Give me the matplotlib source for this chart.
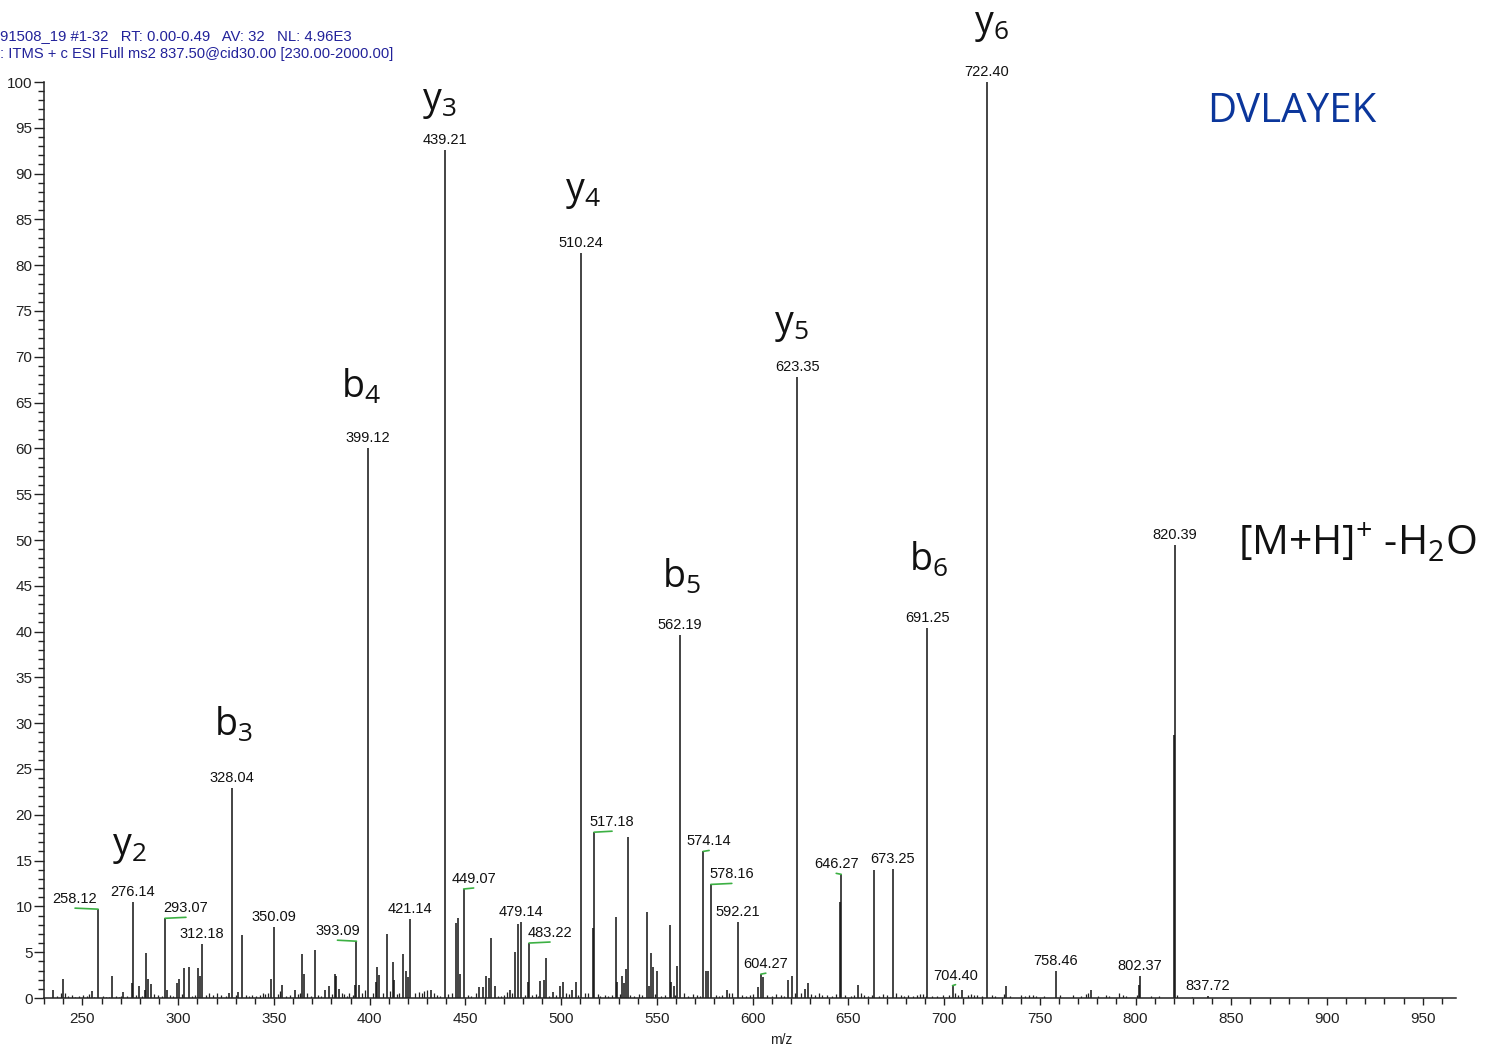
import numpy as np
import matplotlib.pyplot as plt
from matplotlib.ticker import MultipleLocator

# main fragment peaks (m/z, relative abundance %)
peak_mz = [234.4, 239.7, 254.9, 258.12, 265.4, 271.2, 275.6, 276.14, 279.6, 282.7,
           283.3, 284.0, 285.9, 293.07, 294.1, 299.5, 300.6, 303.2, 305.8, 310.2,
           311.4, 312.18, 326.3, 328.04, 331.4, 333.1, 348.2, 350.09, 354.3, 360.8,
           364.6, 365.9, 371.5, 376.6, 378.8, 381.8, 382.5, 383.9, 392.3, 393.09,
           394.2, 399.12, 403.2, 403.9, 405.1, 408.9, 412.1, 412.8, 417.5, 418.9,
           420.1, 421.14, 432.2, 439.21, 444.9, 446.3, 447.0, 449.07, 457.2, 459.1,
           461.0, 462.2, 463.6, 465.7, 473.2, 475.8, 477.7, 479.14, 482.8, 483.22,
           489.1, 491.0, 492.2, 495.5, 499.4, 500.8, 505.6, 507.7, 510.24, 516.5,
           517.18, 528.7, 529.4, 532.0, 532.6, 533.8, 534.7, 544.7, 546.1, 546.8,
           547.8, 550.3, 556.6, 557.3, 558.7, 560.6, 562.19, 574.14, 575.4, 576.6,
           578.16, 586.6, 592.21, 602.6, 604.27, 605.5, 618.5, 620.6, 623.35, 627.6,
           628.8, 645.5, 646.27, 655.1, 663.5, 673.25, 691.25, 704.40, 709.4, 722.40,
           732.5, 758.46, 776.6, 801.9, 802.37, 820.1, 820.39, 837.72]
peak_int = [0.9, 2.1, 0.8, 9.7, 2.4, 0.65, 1.6, 10.5, 1.35, 0.9,
            4.9, 2.1, 1.5, 8.7, 0.9, 1.6, 2.1, 3.3, 3.4, 3.3,
            2.4, 5.9, 0.6, 22.9, 0.65, 6.9, 2.1, 7.7, 1.4, 0.9,
            4.8, 2.65, 5.2, 0.9, 1.35, 2.6, 2.4, 1.0, 1.4, 6.2,
            1.4, 60.0, 1.8, 3.4, 2.5, 7.0, 3.9, 2.0, 4.8, 2.9,
            2.3, 8.6, 0.9, 92.6, 8.2, 8.7, 2.6, 11.9, 1.2, 1.2,
            2.4, 2.2, 6.6, 1.3, 0.9, 5.0, 8.1, 8.3, 1.7, 6.0,
            1.85, 2.0, 4.4, 0.7, 1.3, 1.7, 0.9, 1.8, 81.3, 7.6,
            18.1, 8.8, 1.7, 2.4, 1.6, 3.2, 17.6, 9.4, 1.3, 4.9,
            3.4, 2.9, 8.0, 1.7, 1.3, 3.5, 39.6, 16.0, 2.9, 2.9,
            12.4, 0.9, 8.3, 1.2, 2.6, 2.3, 2.0, 2.4, 67.8, 1.0,
            1.6, 10.5, 13.5, 1.4, 14.0, 14.1, 40.4, 1.35, 0.9, 100.0,
            1.3, 3.0, 0.9, 1.4, 2.4, 28.7, 49.5, 0.25]

# low-level noise peaks
noise_mz = [236.5, 238.8, 240.9, 242.5, 244.6, 246.0, 248.2, 250.3, 252.1, 253.4,
            256.0, 260.8, 262.5, 264.0, 267.3, 268.9, 270.1, 273.4, 278.0, 280.9,
            287.3, 289.2, 291.4, 295.6, 297.1, 302.0, 307.4, 309.0, 314.4, 316.2,
            318.1, 320.4, 322.2, 324.7, 330.1, 335.2, 336.8, 338.5, 340.6, 342.5,
            344.1, 345.3, 346.9, 352.1, 353.1, 356.4, 358.5, 362.4, 363.7, 367.2,
            369.1, 373.2, 374.6, 380.2, 385.3, 386.8, 388.1, 389.4, 391.1, 396.2,
            397.8, 401.5, 406.7, 410.6, 414.3, 415.3, 423.8, 425.6, 427.4, 428.6,
            430.1, 433.5, 435.2, 436.9, 441.0, 442.8, 451.3, 453.1, 455.4, 466.8,
            468.6, 470.2, 471.9, 474.5, 481.1, 485.0, 486.6, 488.0, 493.9, 497.1,
            502.3, 504.1, 509.0, 512.5, 514.1, 519.2, 520.5, 522.8, 524.3, 526.7,
            530.6, 536.1, 538.2, 540.4, 542.1, 549.2, 552.3, 554.1, 559.4, 564.2,
            566.4, 568.7, 571.1, 572.5, 580.7, 582.4, 584.1, 587.8, 589.4, 594.2,
            596.5, 598.4, 600.1, 607.6, 610.2, 612.3, 614.7, 616.2, 622.1, 625.3,
            630.4, 632.5, 634.8, 636.2, 638.7, 641.2, 643.5, 648.1, 651.3, 653.2,
            656.8, 658.4, 660.1, 662.2, 666.1, 668.3, 670.2, 675.1, 677.3, 679.2,
            681.4, 683.6, 686.1, 687.5, 689.2, 690.4, 693.8, 696.1, 699.2, 702.6,
            705.8, 707.1, 712.6, 714.2, 715.8, 717.4, 719.6, 724.9, 726.5, 731.2,
            734.4, 740.3, 742.1, 744.5, 746.2, 748.1, 752.4, 760.6, 767.2, 771.4,
            774.3, 775.1, 780.2, 784.8, 786.3, 791.6, 793.2, 795.1, 800.5, 807.9,
            812.4, 821.5, 829.4]
noise_int = [0.2, 0.6, 0.5, 0.2, 0.3, 0.15, 0.2, 0.3, 0.2, 0.4,
             0.15, 0.2, 0.15, 0.1, 0.2, 0.15, 0.2, 0.2, 0.3, 0.2,
             0.4, 0.3, 0.2, 0.3, 0.2, 0.4, 0.2, 0.3, 0.3, 0.5,
             0.3, 0.6, 0.3, 0.2, 0.3, 0.35, 0.2, 0.3, 0.2, 0.3,
             0.6, 0.4, 0.5, 0.4, 0.8, 0.2, 0.3, 0.4, 0.5, 0.6,
             0.2, 0.3, 0.2, 0.4, 0.6, 0.4, 0.2, 0.6, 0.3, 0.6,
             0.9, 0.5, 0.6, 0.8, 0.4, 0.5, 0.5, 0.7, 0.6, 0.8,
             0.9, 0.6, 0.3, 0.2, 0.4, 0.6, 0.3, 0.2, 0.5, 0.2,
             0.2, 0.3, 0.7, 0.6, 0.3, 0.3, 0.4, 0.2, 0.2, 0.3,
             0.5, 0.4, 0.3, 0.6, 0.5, 0.4, 0.2, 0.3, 0.2, 0.3,
             0.4, 0.3, 0.2, 0.4, 0.3, 0.4, 0.2, 0.3, 0.3, 0.6,
             0.2, 0.4, 0.3, 0.2, 0.3, 0.2, 0.3, 0.6, 0.5, 0.3,
             0.2, 0.3, 0.4, 0.3, 0.2, 0.4, 0.3, 0.2, 0.5, 0.6,
             0.4, 0.3, 0.5, 0.3, 0.3, 0.2, 0.4, 0.3, 0.2, 0.3,
             0.5, 0.3, 0.2, 0.3, 0.2, 0.4, 0.3, 0.5, 0.3, 0.2,
             0.3, 0.2, 0.3, 0.4, 0.4, 0.2, 0.2, 0.2, 0.3, 0.3,
             0.5, 0.3, 0.3, 0.4, 0.3, 0.3, 0.2, 0.3, 0.2, 0.4,
             0.2, 0.3, 0.2, 0.3, 0.3, 0.2, 0.2, 0.3, 0.3, 0.2,
             0.4, 0.5, 0.2, 0.3, 0.2, 0.5, 0.3, 0.2, 0.3, 0.2,
             0.2, 0.3, 0.15]

# labelled peaks and horizontal label shift in pixels (green leader when shifted)
label_mz = [258.12, 276.14, 293.07, 312.18, 328.04, 350.09, 393.09, 399.12, 421.14,
            439.21, 449.07, 479.14, 483.22, 510.24, 517.18, 562.19, 574.14, 578.16,
            592.21, 604.27, 623.35, 646.27, 673.25, 691.25, 704.40, 722.40, 758.46,
            802.37, 820.39, 837.72]
label_shift = [-23, 0, 21, 0, 0, 0, -19, 0, 0,
               0, 10, 0, 21, 0, 18, 0, 6, 21,
               0, 5, 0, -5, 0, 0, 3, 0, 0,
               0, 0, 0]

# fragment ion annotations: text, centre m/z, baseline abundance
ion_text = [r'y$_2$', r'b$_3$', r'b$_4$', r'y$_3$', r'y$_4$', r'b$_5$', r'y$_5$',
            r'b$_6$', r'y$_6$']
ion_x = [274.3, 328.6, 395.5, 436.2, 511.4, 562.6, 620.0, 692.1, 724.5]
ion_y = [15.65, 28.6, 65.5, 96.95, 87.15, 44.8, 72.65, 46.6, 105.35]

plt.rcParams['font.family'] = ['Liberation Sans', 'DejaVu Sans']
plt.rcParams['mathtext.default'] = 'regular'

fig = plt.figure(figsize=(14.87, 10.48), dpi=100)
ax = fig.add_axes([44.2 / 1487, 1 - 998 / 1048, (1455.7 - 44.2) / 1487, (998 - 82) / 1048])

ax.vlines(noise_mz, 0, noise_int, color='#222222', linewidth=0.9)
ax.vlines(peak_mz, 0, peak_int, color='#111111', linewidth=1.1, clip_on=False)

ax.set_xlim(230, 967.2)
ax.set_ylim(0, 100)

for s in ['top', 'right']:
    ax.spines[s].set_visible(False)
for s in ['left', 'bottom']:
    ax.spines[s].set_linewidth(1.1)
    ax.spines[s].set_color('#222222')

ax.xaxis.set_major_locator(MultipleLocator(50))
ax.xaxis.set_minor_locator(MultipleLocator(10))
ax.yaxis.set_major_locator(MultipleLocator(5))
ax.yaxis.set_minor_locator(MultipleLocator(1))
ax.tick_params(axis='x', which='major', length=5, width=1, pad=5, labelsize=11, colors='#222222')
ax.tick_params(axis='x', which='minor', length=4, width=1, colors='#222222')
ax.tick_params(axis='y', which='major', length=7.5, width=1, pad=1, labelsize=11, colors='#222222')
ax.tick_params(axis='y', which='minor', length=4.5, width=1, colors='#222222')

# peak m/z labels
lookup = dict(zip(peak_mz, peak_int))
for mz, dx in zip(label_mz, label_shift):
    h = lookup[mz]
    ax.annotate(f'{mz:.2f}', xy=(mz, h), xytext=(dx, 10), textcoords='offset pixels',
                ha='center', va='center', fontsize=10.5, color='#111111',
                annotation_clip=False)
    if dx != 0:
        ax.annotate('', xy=(mz, h), xytext=(dx, 1), textcoords='offset pixels',
                    arrowprops=dict(arrowstyle='-', color='#3cb043', lw=1.2,
                                    shrinkA=0, shrinkB=0),
                    annotation_clip=False)

for t, x, y in zip(ion_text, ion_x, ion_y):
    ax.text(x, y, t, ha='center', va='baseline', fontsize=27, color='#111111',
            family='Open Sans', clip_on=False)

ax.text(853.5, 48.3, r'[M+H]$^{+}$ -H$_2$O', ha='left', va='baseline', fontsize=29.5,
        color='#111111', family='Open Sans', clip_on=False)
ax.text(1207 / 1487, 1 - 122 / 1048, 'DVLAYEK', transform=fig.transFigure, ha='left',
        va='baseline', fontsize=29, color='#0b369b', family='Open Sans')

fig.text(0.0, 1 - 40 / 1048, '91508_19 #1-32   RT: 0.00-0.49   AV: 32   NL: 4.96E3',
         fontsize=10.7, color='#22229a', ha='left', va='baseline')
fig.text(0.0, 1 - 58 / 1048, ': ITMS + c ESI Full ms2 837.50@cid30.00 [230.00-2000.00]',
         fontsize=10.6, color='#22229a', ha='left', va='baseline')
fig.text(781 / 1487, 1 - 1040 / 1048, 'm/z', fontsize=10, color='#222222',
         ha='center', va='center')

fig.savefig('out.png', dpi=100)
